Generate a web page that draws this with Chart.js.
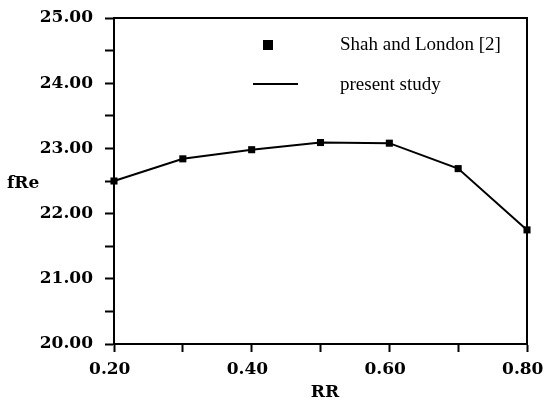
<!DOCTYPE html>
<html>
<head>
<meta charset="utf-8">
<script src="https://cdn.jsdelivr.net/npm/chart.js@4/dist/chart.umd.min.js"></script>
<style>
  html, body { margin: 0; padding: 0; background: #fff; }
  canvas { display: block; }
</style>
</head>
<body>
<canvas id="c" width="545" height="402"></canvas>
<script>
const rrValues = [0.2, 0.3, 0.4, 0.5, 0.6, 0.7, 0.8];
const shahLondon = [22.50, 22.84, 22.98, 23.09, 23.08, 22.69, 21.75];
const presentStudy = [22.50, 22.84, 22.98, 23.09, 23.08, 22.69, 21.75];
const xTickLabels = ['0.20', '0.40', '0.60', '0.80'];
const yTickLabels = ['20.00', '21.00', '22.00', '23.00', '24.00', '25.00'];
const xTitle = 'RR';
const yTitle = 'fRe';
const seriesNames = ['Shah and London [2]', 'present study'];

const numFont = { family: '"DejaVu Serif", "Liberation Serif", serif', size: 17, weight: 'bold' };

const decor = {
  id: 'decor',
  afterDraw(chart) {
    const ctx = chart.ctx;
    const a = chart.chartArea;
    ctx.save();
    ctx.strokeStyle = '#000';
    ctx.lineWidth = 2;
    ctx.beginPath();
    ctx.moveTo(a.left, a.top);
    ctx.lineTo(a.right, a.top);
    ctx.lineTo(a.right, a.bottom);
    ctx.stroke();
    ctx.fillStyle = '#000';
    ctx.font = 'bold 17px "DejaVu Serif", "Liberation Serif", serif';
    ctx.textBaseline = 'middle';
    ctx.textAlign = 'left';
    ctx.fillText(yTitle, 7, 184);
    ctx.textAlign = 'center';
    ctx.fillText(xTitle, 325, 393);
    ctx.fillRect(263, 40, 10, 10);
    ctx.beginPath();
    ctx.moveTo(253, 84);
    ctx.lineTo(298, 84);
    ctx.lineWidth = 2;
    ctx.stroke();
    ctx.font = '19px "Liberation Serif"';
    ctx.textAlign = 'left';
    ctx.fillText(chart.data.datasets[0].label, 340, 45);
    ctx.fillText(chart.data.datasets[1].label, 340, 85);
    ctx.restore();
  }
};

new Chart(document.getElementById('c'), {
  type: 'scatter',
  data: {
    datasets: [
      {
        label: seriesNames[0],
        data: rrValues.map((x, i) => ({ x, y: shahLondon[i] })),
        showLine: false,
        pointStyle: 'rect',
        pointRadius: 5,
        backgroundColor: '#000',
        borderColor: '#000',
        borderWidth: 0,
        order: 0
      },
      {
        label: seriesNames[1],
        data: rrValues.map((x, i) => ({ x, y: presentStudy[i] })),
        showLine: true,
        pointRadius: 0,
        borderColor: '#000',
        borderWidth: 2,
        tension: 0,
        order: 1
      }
    ]
  },
  options: {
    responsive: false,
    animation: false,
    clip: false,
    layout: { padding: { left: 0, right: 18, top: 18, bottom: 0 } },
    plugins: { legend: { display: false }, tooltip: { enabled: false } },
    scales: {
      x: {
        type: 'linear',
        min: 0.2, max: 0.8,
        afterFit(s) { s.height = 58; s.paddingLeft = 0; s.paddingRight = 0; },
        border: { display: true, color: '#000', width: 2 },
        grid: { drawOnChartArea: false, drawTicks: true, tickLength: 8, color: '#000', tickWidth: 2 },
        ticks: {
          stepSize: 0.1,
          padding: 7,
          color: '#000',
          font: numFont,
          maxRotation: 0,
          autoSkip: false,
          callback(v) {
            const k = Math.round(v * 10);
            if (k % 2 !== 0) return '';
            return xTickLabels[(k - 2) / 2] + '\u2002';
          }
        }
      },
      y: {
        type: 'linear',
        min: 20, max: 25,
        afterFit(s) { s.width = 114; s.paddingTop = 0; s.paddingBottom = 0; },
        border: { display: true, color: '#000', width: 2 },
        grid: { drawOnChartArea: false, drawTicks: true, tickLength: 9, color: '#000', tickWidth: 2 },
        ticks: {
          stepSize: 0.5,
          padding: 12,
          color: '#000',
          font: numFont,
          autoSkip: false,
          callback(v) {
            const k = Math.round(v * 2);
            if (k % 2 !== 0) return '';
            return yTickLabels[k / 2 - 20];
          }
        }
      }
    }
  },
  plugins: [decor]
});
</script>
</body>
</html>
